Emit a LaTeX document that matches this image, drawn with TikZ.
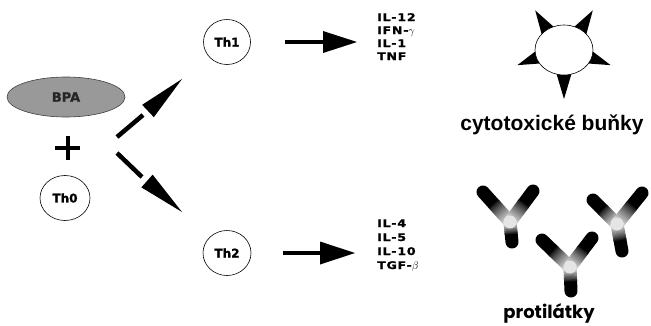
\documentclass[tikz,border=0pt]{standalone}
\usepackage{fontspec}
\setmainfont{Liberation Sans}
\newfontfamily\labelfont{DejaVu Sans}[BoldFeatures={FakeBold=1.2}]
\newfontfamily\cytofont{DejaVu Sans}[FakeStretch=1.2,LetterSpace=7,BoldFeatures={FakeBold=1.3}]
\newfontfamily\geofont{Poppins}
\usetikzlibrary{shapes.geometric,calc}

\tikzset{
  cell/.style={ellipse, draw=black, line width=0.6pt, fill=white, inner sep=0pt,
    font={\labelfont\bfseries\fontsize{12}{12}\selectfont}},
  antigen/.style={ellipse, draw=black!75, line width=0.6pt, fill=black!40, inner sep=0pt,
    minimum width=118pt, minimum height=40pt, text=black!85,
    font={\labelfont\bfseries\fontsize{13}{13}\selectfont}},
  cyto/.style={anchor=base west, inner sep=0pt,
    font={\cytofont\bfseries\fontsize{10.5}{10.5}\selectfont}},
  shaft/.style={line width=4.5pt},
  abline/.style={line width=13pt},
  caption/.style={inner sep=0pt, font={\bfseries\fontsize{21}{21}\selectfont}},
}

% filled arrow head: base midpoint, tip, half width
\newcommand\headfill[3]{%
  \fill ($(#1)!#3!90:(#2)$) -- (#2) -- ($(#1)!#3!-90:(#2)$) -- cycle;}

% one antibody arm: dark at the free end, fading to pale at the hinge
\newcommand\abarm[2]{%
  \draw[abline, line cap=round] (#1) -- ($(#1)!0.42!(#2)$);
  \foreach \k in {0,...,17}{%
    \pgfmathsetmacro\ta{0.4+0.6*\k/18}%
    \pgfmathsetmacro\tb{0.4+0.6*(\k+1)/18+0.012}%
    \pgfmathsetmacro\sh{int(100-90*((\k+1)/18)^0.8)}%
    \draw[abline, draw=black!\sh] ($(#1)!\ta!(#2)$) -- ($(#1)!\tb!(#2)$);
  }}

% whole antibody: left arm, right arm, stem, hinge
\newcommand\antibody[4]{%
  \abarm{#1}{#3}\abarm{#2}{#3}\abarm{#4}{#3}%
  \fill[black!10] (#3) circle (6.5pt);}

\begin{document}
\begin{tikzpicture}[x=1pt,y=-1pt]
  \useasboundingbox (0,0) rectangle (651,325);

  % antigen, plus sign and naive T cell
  \node[antigen] (bpa) at (66,97) {BPA};
  \coordinate (plus) at (67.5,148);
  \draw[line width=4pt] ($(plus)+(-12.5,0)$) -- ($(plus)+(12.5,0)$);
  \draw[line width=4pt] ($(plus)+(0,-12)$) -- ($(plus)+(0,12)$);
  \node[cell, minimum width=50pt, minimum height=45pt] (th0) at (65,198) {Th0};

  % effector T cells
  \node[cell, minimum width=47pt, minimum height=45pt] (th1) at (227,42) {Th1};
  \node[cell, minimum width=48pt, minimum height=45pt] (th2) at (227,253) {Th2};

  % branching arrows
  \coordinate (upS) at (117,137);
  \coordinate (upE) at (143,115);
  \coordinate (upB) at (148,111);
  \coordinate (upT) at (182,79);
  \draw[shaft] (upS) -- (upE);
  \headfill{upB}{upT}{8.5pt}
  \coordinate (dnS) at (117,153);
  \coordinate (dnE) at (142,177);
  \coordinate (dnB) at (147,181);
  \coordinate (dnT) at (182,212);
  \draw[shaft] (dnS) -- (dnE);
  \headfill{dnB}{dnT}{8.5pt}

  % arrows to the cytokines
  \coordinate (a1S) at (285,42);
  \coordinate (a1B) at (323,42);
  \coordinate (a1T) at (357,42);
  \draw[shaft, line width=4pt] (a1S) -- (a1B);
  \headfill{a1B}{a1T}{11pt}
  \coordinate (a2S) at (283,253);
  \coordinate (a2B) at (320,253);
  \coordinate (a2T) at (355,253);
  \draw[shaft, line width=4pt] (a2S) -- (a2B);
  \headfill{a2B}{a2T}{11.5pt}

  % cytokines
  \node[cyto] (c11) at (377,21) {IL-12};
  \node[cyto] (c12) at (377,34) {IFN-$\gamma$};
  \node[cyto] (c13) at (377,47) {IL-1};
  \node[cyto] (c14) at (377,60) {TNF};
  \node[cyto] (c21) at (377,227) {IL-4};
  \node[cyto] (c22) at (377,241) {IL-5};
  \node[cyto] (c23) at (377,255) {IL-10};
  \node[cyto] (c24) at (377,269) {TGF-$\beta$};

  % cytotoxic cell with spikes
  \coordinate (cc) at (564,50);
  \foreach \a in {90,18,-54,-126,162}{
    \fill ($(cc)+(\a-16:28 and 24)$) -- ($(cc)+(\a:49)$) -- ($(cc)+(\a+16:28 and 24)$) -- cycle;
  }
  \fill[white] (cc) ellipse (29 and 25);
  \draw[line width=0.6pt] (cc) ellipse (29 and 25);
  \node[caption] (cyt) at (552,125) {cytotoxické buňky};

  % antibodies
  \coordinate (y1l) at (483,192);
  \coordinate (y1r) at (533,191);
  \coordinate (y1j) at (510,222);
  \coordinate (y1s) at (512,242);
  \coordinate (y2l) at (542,240);
  \coordinate (y2r) at (592,238);
  \coordinate (y2j) at (570,267);
  \coordinate (y2s) at (571,291);
  \coordinate (y3l) at (593,200);
  \coordinate (y3r) at (642,193);
  \coordinate (y3j) at (617,224);
  \coordinate (y3s) at (622,251);
  \antibody{y1l}{y1r}{y1j}{y1s}
  \antibody{y3l}{y3r}{y3j}{y3s}
  \antibody{y2l}{y2r}{y2j}{y2s}
  \node[inner sep=0pt, font={\geofont\bfseries\fontsize{18}{18}\selectfont}] (prot) at (549,313) {protilátky};
\end{tikzpicture}
\end{document}
